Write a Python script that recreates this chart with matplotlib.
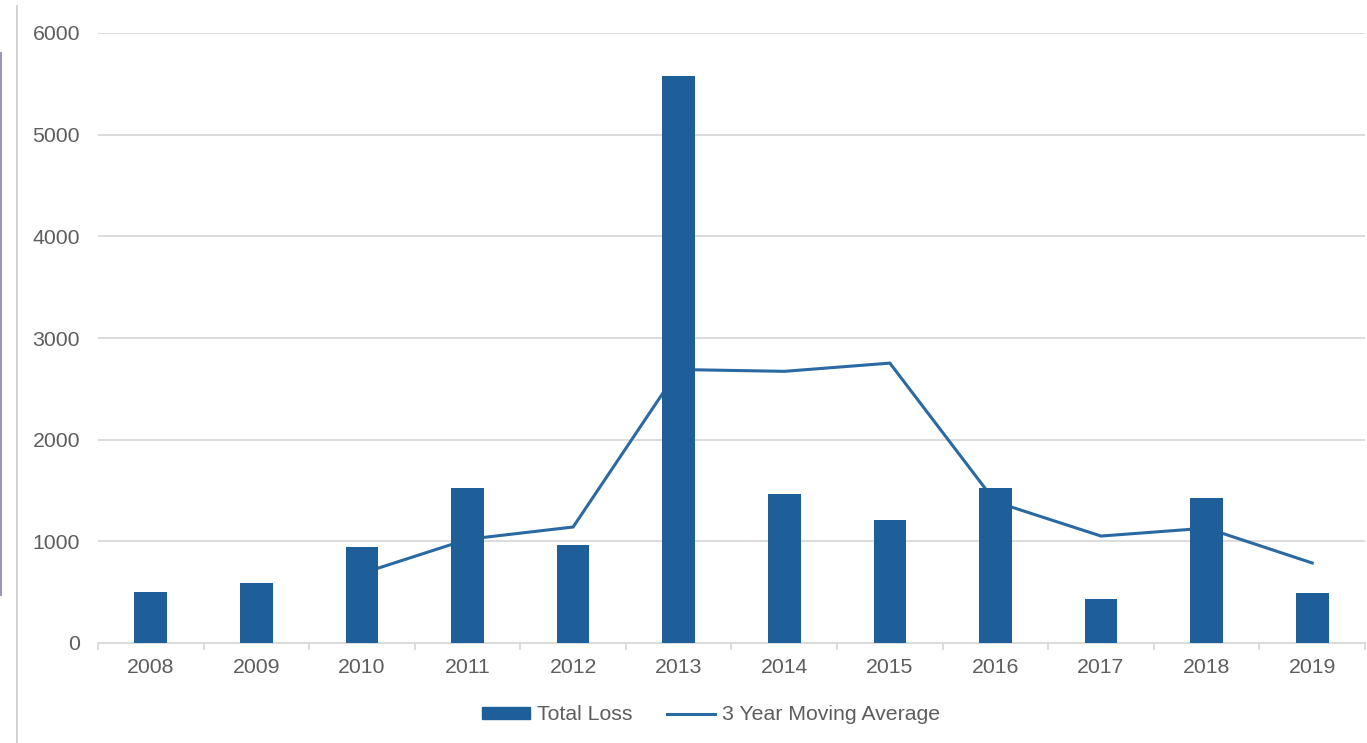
import matplotlib
matplotlib.use("Agg")
import matplotlib.pyplot as plt
from matplotlib.lines import Line2D
import numpy as np

years = ["2008", "2009", "2010", "2011", "2012", "2013", "2014", "2015", "2016", "2017", "2018", "2019"]
total_loss = [500, 590, 945, 1520, 962, 5575, 1462, 1208, 1520, 432, 1428, 495]
ma_years = ["2010", "2011", "2012", "2013", "2014", "2015", "2016", "2017", "2018", "2019"]
moving_avg = [685, 1020, 1141, 2690, 2672, 2753, 1388, 1052, 1130, 787]
y_ticks = [0, 1000, 2000, 3000, 4000, 5000, 6000]

BAR = "#1F5F99"
LINE = "#2B69A3"
TXT = "#5E5E5E"
GRID = "#D9D9D9"
FS = 15.3

plt.rcParams["font.family"] = ["Liberation Sans", "DejaVu Sans"]

W, H = 1367, 743
fig = plt.figure(figsize=(W / 100, H / 100), dpi=100)
ax = fig.add_axes([98 / W, 100 / H, (1365 - 98) / W, 610 / H])

x = np.arange(len(years))
xm = [years.index(y) for y in ma_years]

ax.plot(xm, moving_avg, color=LINE, lw=2.2, zorder=2, solid_joinstyle="miter",
        label="3 Year Moving Average")
ax.bar(x, total_loss, width=0.31, color=BAR, zorder=3, label="Total Loss")

ax.set_xlim(-0.5, len(years) - 0.5)
ax.set_ylim(0, 6000)
ax.set_yticks(y_ticks)
ax.set_yticklabels([str(v) for v in y_ticks])
ax.yaxis.grid(True, color=GRID, lw=1.3, zorder=0)
ax.set_axisbelow(True)
for s in ["top", "right", "left"]:
    ax.spines[s].set_visible(False)
ax.spines["bottom"].set_color(GRID)
ax.spines["bottom"].set_linewidth(1.3)

ax.set_xticks(x)
ax.set_xticklabels(years)
ax.set_xticks(np.arange(-0.5, len(years)), minor=True)
ax.tick_params(axis="x", which="major", length=0, pad=10.5, labelsize=FS, labelcolor=TXT)
ax.tick_params(axis="x", which="minor", length=5, width=1.3, color=GRID)
ax.tick_params(axis="y", length=0, pad=13, labelsize=FS, labelcolor=TXT)

handles = [plt.Rectangle((0, 0), 1, 1, color=BAR),
           Line2D([0], [0], color=LINE, lw=2.2)]
fig.legend(handles, ["Total Loss", "3 Year Moving Average"], loc="center",
           bbox_to_anchor=(711 / W, 1 - 715 / H), ncol=2, frameon=False,
           fontsize=FS, labelcolor=TXT, handlelength=2.25, handleheight=0.45,
           handletextpad=0.35, columnspacing=1.6)

# frame artifacts at left edge of the screenshot
fig.add_artist(Line2D([17 / W, 17 / W], [0, 1 - 6 / H], color="#D0D0D0", lw=1.3))
fig.add_artist(Line2D([0.5 / W, 0.5 / W], [1 - 595 / H, 1 - 53 / H], color="#9A9AB8", lw=1.5))

fig.savefig("out.png", dpi=100, facecolor="white")
